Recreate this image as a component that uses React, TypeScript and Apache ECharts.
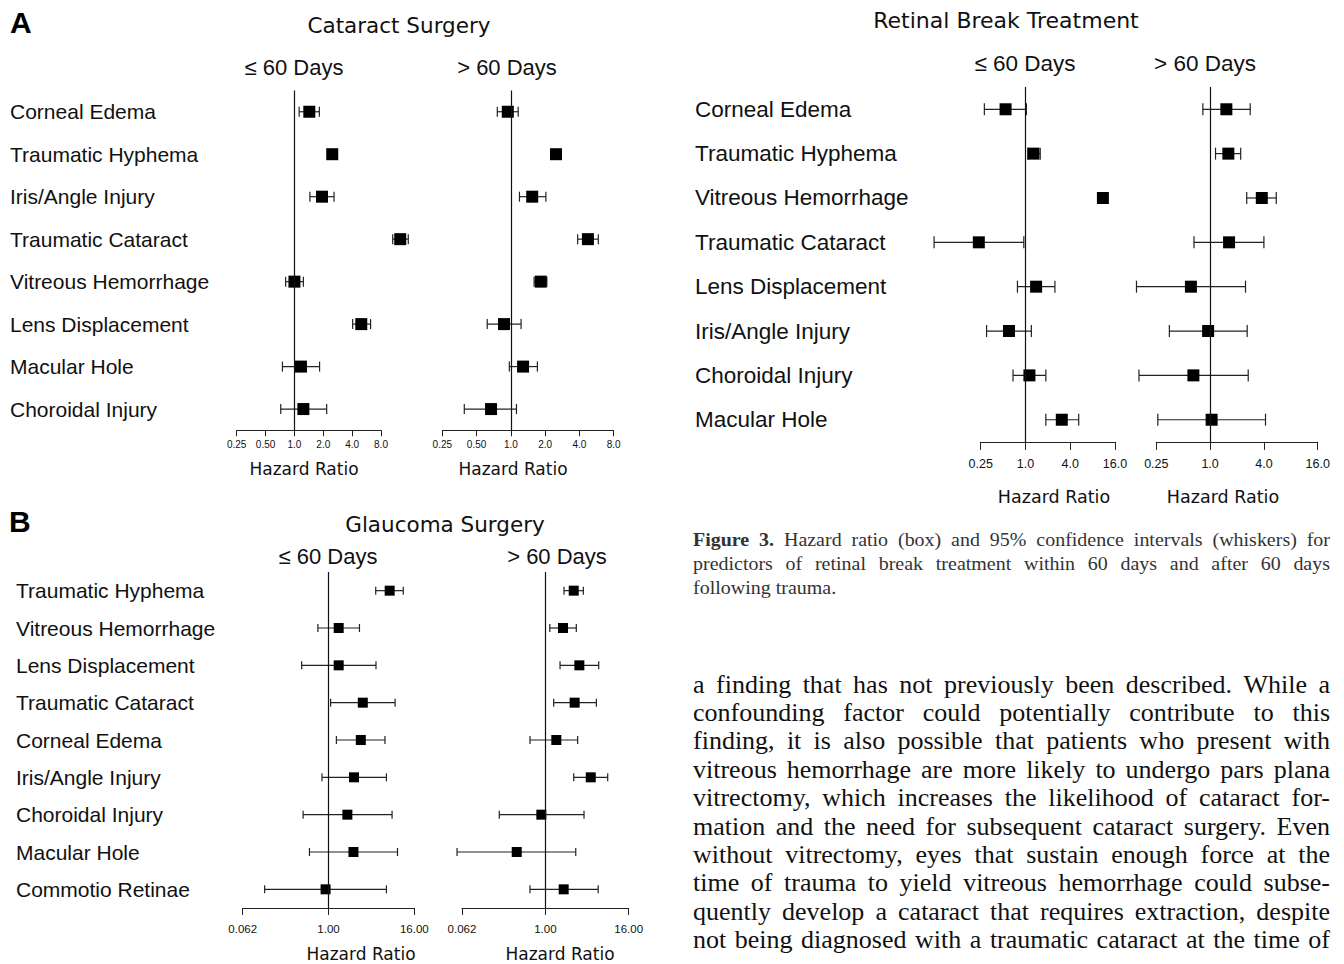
import React, { useEffect, useRef } from "react";
import * as echarts from "echarts";

// ---------- Data ----------
const cataractRows = ["Corneal Edema", "Traumatic Hyphema", "Iris/Angle Injury", "Traumatic Cataract", "Vitreous Hemorrhage", "Lens Displacement", "Macular Hole", "Choroidal Injury"];
const cataractEarlyHR = [1.43, 2.48, 1.94, 12.7, 1.0, 4.98, 1.17, 1.24];
const cataractEarlyLo = [1.12, 2.35, 1.45, 10.6, 0.81, 4.05, 0.75, 0.72];
const cataractEarlyHi = [1.82, 2.6, 2.59, 15.4, 1.24, 6.23, 1.83, 2.17];
const cataractLateHR = [0.94, 2.49, 1.54, 4.75, 1.83, 0.87, 1.28, 0.67];
const cataractLateLo = [0.76, 2.38, 1.19, 3.86, 1.6, 0.62, 0.97, 0.39];
const cataractLateHi = [1.16, 2.6, 2.03, 5.86, 2.07, 1.23, 1.71, 1.12];
const cataractTicks = [0.25, 0.5, 1, 2, 4, 8];
const cataractTickLabels = ["0.25", "0.50", "1.0", "2.0", "4.0", "8.0"];

const retinalRows = ["Corneal Edema", "Traumatic Hyphema", "Vitreous Hemorrhage", "Traumatic Cataract", "Lens Displacement", "Iris/Angle Injury", "Choroidal Injury", "Macular Hole"];
const retinalEarlyHR = [0.54, 1.28, 11.0, 0.236, 1.39, 0.6, 1.13, 3.08];
const retinalEarlyLo = [0.28, 1.08, 10.0, 0.059, 0.78, 0.3, 0.68, 1.88];
const retinalEarlyHi = [1.03, 1.58, 12.3, 0.95, 2.49, 1.2, 1.88, 5.2];
const retinalLateHR = [1.52, 1.6, 3.79, 1.63, 0.61, 0.95, 0.65, 1.04];
const retinalLateLo = [0.83, 1.15, 2.57, 0.66, 0.15, 0.35, 0.16, 0.26];
const retinalLateHi = [2.81, 2.2, 5.5, 4.0, 2.49, 2.6, 2.67, 4.17];
const retinalTicks = [0.25, 1, 4, 16];
const retinalTickLabels = ["0.25", "1.0", "4.0", "16.0"];

const glaucomaRows = ["Traumatic Hyphema", "Vitreous Hemorrhage", "Lens Displacement", "Traumatic Cataract", "Corneal Edema", "Iris/Angle Injury", "Choroidal Injury", "Macular Hole", "Commotio Retinae"];
const glaucomaEarlyHR = [7.22, 1.39, 1.39, 3.03, 2.84, 2.28, 1.84, 2.24, 0.91];
const glaucomaEarlyLo = [4.6, 0.71, 0.42, 1.07, 1.29, 0.81, 0.44, 0.54, 0.127];
const glaucomaEarlyHi = [11.2, 2.72, 4.64, 8.6, 6.2, 6.5, 7.8, 9.3, 6.5];
const glaucomaLateHR = [2.57, 1.8, 3.1, 2.65, 1.44, 4.53, 0.875, 0.386, 1.84];
const glaucomaLateLo = [1.86, 1.16, 1.63, 1.32, 0.6, 2.57, 0.216, 0.053, 0.6];
const glaucomaLateHi = [3.54, 2.8, 5.9, 5.46, 2.93, 7.96, 3.62, 2.75, 5.8];
const glaucomaTicks = [0.0625, 1, 16];
const glaucomaTickLabels = ["0.062", "1.00", "16.00"];

const captionLines = [
  "Figure 3. Hazard ratio (box) and 95% confidence intervals (whiskers) for",
  "predictors of retinal break treatment within 60 days and after 60 days",
  "following trauma.",
];
const bodyLines = [
  "a finding that has not previously been described. While a",
  "confounding factor could potentially contribute to this",
  "finding, it is also possible that patients who present with",
  "vitreous hemorrhage are more likely to undergo pars plana",
  "vitrectomy, which increases the likelihood of cataract for-",
  "mation and the need for subsequent cataract surgery. Even",
  "without vitrectomy, eyes that sustain enough force at the",
  "time of trauma to yield vitreous hemorrhage could subse-",
  "quently develop a cataract that requires extraction, despite",
  "not being diagnosed with a traumatic cataract at the time of",
];

// ---------- Layout ----------
type Panel = {
  left: number; width: number; top: number; height: number;
  rows: string[]; hr: number[]; lo: number[]; hi: number[];
  base: number; min: number; max: number; ticks: number[]; tickLabels: string[];
  showLabels: boolean; labelX: number; labelSize: number;
  tickFont: number; tickMargin: number; tickLen: number; box: number; cap: number;
};

const panels: Panel[] = [
  { left: 236.7, width: 144.3, top: 90.5, height: 339.8, rows: cataractRows, hr: cataractEarlyHR, lo: cataractEarlyLo, hi: cataractEarlyHi, base: 2, min: 0.25, max: 8, ticks: cataractTicks, tickLabels: cataractTickLabels, showLabels: true, labelX: 10, labelSize: 21, tickFont: 10, tickMargin: 9, tickLen: 6, box: 12, cap: 5 },
  { left: 442.3, width: 171.4, top: 90.5, height: 339.8, rows: cataractRows, hr: cataractLateHR, lo: cataractLateLo, hi: cataractLateHi, base: 2, min: 0.25, max: 8, ticks: cataractTicks, tickLabels: cataractTickLabels, showLabels: false, labelX: 0, labelSize: 21, tickFont: 10, tickMargin: 9, tickLen: 6, box: 12, cap: 5 },
  { left: 980.7, width: 134.3, top: 87.1, height: 354.8, rows: retinalRows, hr: retinalEarlyHR, lo: retinalEarlyLo, hi: retinalEarlyHi, base: 4, min: 0.25, max: 16, ticks: retinalTicks, tickLabels: retinalTickLabels, showLabels: true, labelX: 695, labelSize: 22.5, tickFont: 12.5, tickMargin: 16, tickLen: 8, box: 12, cap: 6 },
  { left: 1156.3, width: 161.4, top: 87.1, height: 354.8, rows: retinalRows, hr: retinalLateHR, lo: retinalLateLo, hi: retinalLateHi, base: 4, min: 0.25, max: 16, ticks: retinalTicks, tickLabels: retinalTickLabels, showLabels: false, labelX: 0, labelSize: 22.5, tickFont: 12.5, tickMargin: 16, tickLen: 8, box: 12, cap: 6 },
  { left: 242.7, width: 171.6, top: 572, height: 336, rows: glaucomaRows, hr: glaucomaEarlyHR, lo: glaucomaEarlyLo, hi: glaucomaEarlyHi, base: 16, min: 0.0625, max: 16, ticks: glaucomaTicks, tickLabels: glaucomaTickLabels, showLabels: true, labelX: 16, labelSize: 21, tickFont: 11.5, tickMargin: 15, tickLen: 7, box: 10, cap: 4 },
  { left: 462, width: 166.7, top: 572, height: 336, rows: glaucomaRows, hr: glaucomaLateHR, lo: glaucomaLateLo, hi: glaucomaLateHi, base: 16, min: 0.0625, max: 16, ticks: glaucomaTicks, tickLabels: glaucomaTickLabels, showLabels: false, labelX: 0, labelSize: 21, tickFont: 11.5, tickMargin: 15, tickLen: 7, box: 10, cap: 4 },
];

function tickLabel(v: number, ticks: number[], labels: string[]): string {
  for (let i = 0; i < ticks.length; i++) {
    if (Math.abs(Math.log(v) - Math.log(ticks[i])) < 1e-6) return labels[i];
  }
  return "";
}

function textEl(text: string, x: number, y: number, size: number, family: string, align: string, weight = "normal", color = "#111", scaleX = 1) {
  return {
    type: "text", x, y, scaleX, silent: true,
    style: { text, fontSize: size, fontFamily: family, fontWeight: weight, fill: color, align, verticalAlign: "middle", textAlign: align, textVerticalAlign: "middle" },
  };
}

function layoutWords(lines: string[], x0: number, x1: number, y0: number, dy: number, size: number, family: string, color: string, justifyLast: boolean, boldPrefix: number, scaleX: number) {
  const ctx = document.createElement("canvas").getContext("2d") as CanvasRenderingContext2D;
  const els: any[] = [];
  lines.forEach((line, li) => {
    const words = line.split(" ");
    const isBold = (wi: number) => li === 0 && wi < boldPrefix;
    const widths = words.map((w, wi) => {
      ctx.font = `${isBold(wi) ? "bold " : ""}${size}px "${family}"`;
      return ctx.measureText(w).width * scaleX;
    });
    const total = widths.reduce((a, b) => a + b, 0);
    ctx.font = `${size}px "${family}"`;
    const space = ctx.measureText(" ").width * scaleX;
    const justify = li < lines.length - 1 || justifyLast;
    const gap = justify && words.length > 1 ? (x1 - x0 - total) / (words.length - 1) : space;
    let x = x0;
    words.forEach((w, wi) => {
      els.push(textEl(w, x, y0 + li * dy, size, family, "left", isBold(wi) ? "bold" : "normal", color, scaleX));
      x += widths[wi] + gap;
    });
  });
  return els;
}

function buildOption() {
  const grid = panels.map((p) => ({ left: p.left, top: p.top, width: p.width, height: p.height, outerBoundsMode: "none", containLabel: false }));
  const xAxis = panels.map((p, i) => ({
    type: "log", logBase: p.base, min: p.min, max: p.max, gridIndex: i, position: "bottom",
    axisLine: { show: true, onZero: false, lineStyle: { color: "#222", width: 1 } },
    axisTick: { show: true, length: p.tickLen, lineStyle: { color: "#222", width: 1 } },
    splitLine: { show: false }, minorTick: { show: false }, minorSplitLine: { show: false },
    axisLabel: {
      fontSize: p.tickFont, fontFamily: "Liberation Sans", color: "#111", margin: p.tickMargin,
      showMinLabel: true, showMaxLabel: true,
      formatter: (v: number) => tickLabel(v, p.ticks, p.tickLabels),
    },
  }));
  const yAxis = panels.map((p, i) => ({
    type: "category", gridIndex: i, data: p.rows, inverse: true,
    axisLine: { show: false }, axisTick: { show: false }, splitLine: { show: false },
    axisLabel: { show: p.showLabels, interval: 0, align: "left", margin: p.left - p.labelX, fontSize: p.labelSize, fontFamily: "Liberation Sans", color: "#111" },
  }));
  const series: any[] = [];
  panels.forEach((p, i) => {
    series.push({
      type: "custom", xAxisIndex: i, yAxisIndex: i, clip: false, silent: true, z: 2,
      encode: { x: [0, 1], y: 2 },
      data: p.rows.map((_, j) => [p.lo[j], p.hi[j], j]),
      renderItem: (params: any, api: any) => {
        const y = api.value(2);
        const a = api.coord([api.value(0), y]);
        const b = api.coord([api.value(1), y]);
        const st = { stroke: "#222", lineWidth: 1.2 };
        return {
          type: "group",
          children: [
            { type: "line", shape: { x1: a[0], y1: a[1], x2: b[0], y2: b[1] }, style: st },
            { type: "line", shape: { x1: a[0], y1: a[1] - p.cap, x2: a[0], y2: a[1] + p.cap }, style: st },
            { type: "line", shape: { x1: b[0], y1: b[1] - p.cap, x2: b[0], y2: b[1] + p.cap }, style: st },
          ],
        };
      },
    });
    series.push({
      type: "scatter", xAxisIndex: i, yAxisIndex: i, clip: false, silent: true, z: 3,
      symbol: "rect", symbolSize: p.box, itemStyle: { color: "#000", opacity: 1 },
      data: p.rows.map((_, j) => [p.hr[j], j]),
      markLine: {
        silent: true, symbol: ["none", "none"], label: { show: false },
        lineStyle: { color: "#111", width: 1.2, type: "solid", opacity: 1 },
        emphasis: { disabled: true },
        data: [{ xAxis: 1 }],
      },
    });
  });

  const sans = "Liberation Sans";
  const dv = "DejaVu Sans";
  const graphics: any[] = [
    textEl("A", 10, 22, 30, sans, "left", "bold", "#000"),
    textEl("B", 9, 521, 30, sans, "left", "bold", "#000"),
    textEl("Cataract Surgery", 399, 25, 21.5, dv, "center"),
    textEl("≤ 60 Days", 294, 67, 22, sans, "center"),
    textEl("> 60 Days", 507, 67, 22, sans, "center"),
    textEl("Hazard Ratio", 304, 469, 17, dv, "center"),
    textEl("Hazard Ratio", 513, 469, 17, dv, "center"),
    textEl("Retinal Break Treatment", 1006, 20, 22, dv, "center"),
    textEl("≤ 60 Days", 1025, 63, 22.5, sans, "center"),
    textEl("> 60 Days", 1205, 63, 22.5, sans, "center"),
    textEl("Hazard Ratio", 1054, 497, 17.5, dv, "center"),
    textEl("Hazard Ratio", 1223, 497, 17.5, dv, "center"),
    textEl("Glaucoma Surgery", 445, 524, 21.5, dv, "center"),
    textEl("≤ 60 Days", 328, 556, 22, sans, "center"),
    textEl("> 60 Days", 557, 556, 22, sans, "center"),
    textEl("Hazard Ratio", 361, 954, 17, dv, "center"),
    textEl("Hazard Ratio", 560, 954, 17, dv, "center"),
    ...layoutWords(captionLines, 693, 1330, 540, 24, 18.5, "Liberation Serif", "#333", false, 2, 1.08),
    ...layoutWords(bodyLines, 693, 1330, 684, 28.4, 26, "Liberation Serif", "#111", true, 0, 1),
  ];

  return {
    animation: false,
    backgroundColor: "#fff",
    grid, xAxis, yAxis, series,
    graphic: { elements: graphics },
  };
}

export default function App() {
  const ref = useRef<HTMLDivElement>(null);
  useEffect(() => {
    document.body.style.margin = "0";
    if (!ref.current) return;
    const chart = echarts.init(ref.current, undefined, { renderer: "svg" });
    chart.setOption(buildOption() as any);
    return () => chart.dispose();
  }, []);
  return <div ref={ref} style={{ width: 1344, height: 964 }} />;
}
